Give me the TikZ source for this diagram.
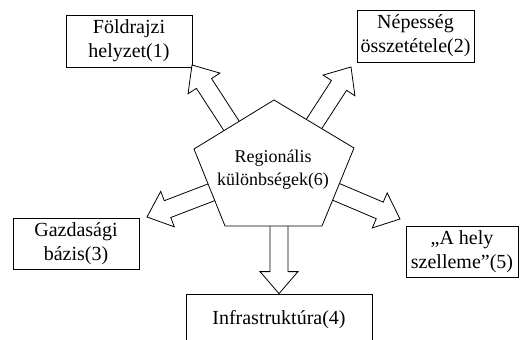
\documentclass[tikz,border=0pt]{standalone}
\usepackage{fontspec}
\setmainfont{Liberation Serif}
\begin{document}
\begin{tikzpicture}[x=1pt,y=-1pt,line width=0.8pt,
  box/.style={draw,fill=white,inner sep=0pt,align=center,font=\rmfamily\fontsize{20}{24}\selectfont},
  centertext/.style={inner sep=0pt,align=center,font=\rmfamily\fontsize{18}{23}\selectfont},
  blockarrow/.pic={\draw[fill=white,line join=miter] (0,0) -- (-22,19) -- (-22,9) -- (-82,9) -- (-82,-9) -- (-22,-9) -- (-22,-19) -- cycle;}]
\useasboundingbox (0,0) rectangle (520,340);
\clip (0,0) rectangle (520,340);
% boxes
\node[box,minimum width=126pt,minimum height=52pt] (b1) at (129,41) {Földrajzi\\helyzet(1)};
\node[box,minimum width=117pt,minimum height=52pt] (b2) at (415.5,36) {Népesség\\összetétele(2)};
\node[box,minimum width=126pt,minimum height=51pt] (b3) at (76,243.5) {Gazdasági\\bázis(3)};
\node[box,minimum width=186pt,minimum height=52pt] (b4) at (279,320) {Infrastruktúra(4)};
\node[box,minimum width=112pt,minimum height=51pt] (b5) at (462,251.5) {„A hely\\szelleme”(5)};
% arrow tips
\coordinate (a1) at (192,65);
\coordinate (a2) at (351,67);
\coordinate (a3) at (147,217);
\coordinate (a4) at (b4.north);
\coordinate (a5) at (400,219);
\pic[rotate=123] at (a1) {blockarrow};
\pic[rotate=57] at (a2) {blockarrow};
\pic[rotate=201] at (a3) {blockarrow};
\pic[rotate=-90] at (a4) {blockarrow};
\pic[rotate=-23] at (a5) {blockarrow};
% pentagon
\draw[fill=white,line join=miter] (274,100) coordinate (p1) -- (354,148) coordinate (p2) -- (322,226) coordinate (p3) -- (225,226) coordinate (p4) -- (194,149) coordinate (p5) -- cycle;
\node[centertext] (c) at (273,170) {Regionális\\különbségek(6)};
\end{tikzpicture}
\end{document}
